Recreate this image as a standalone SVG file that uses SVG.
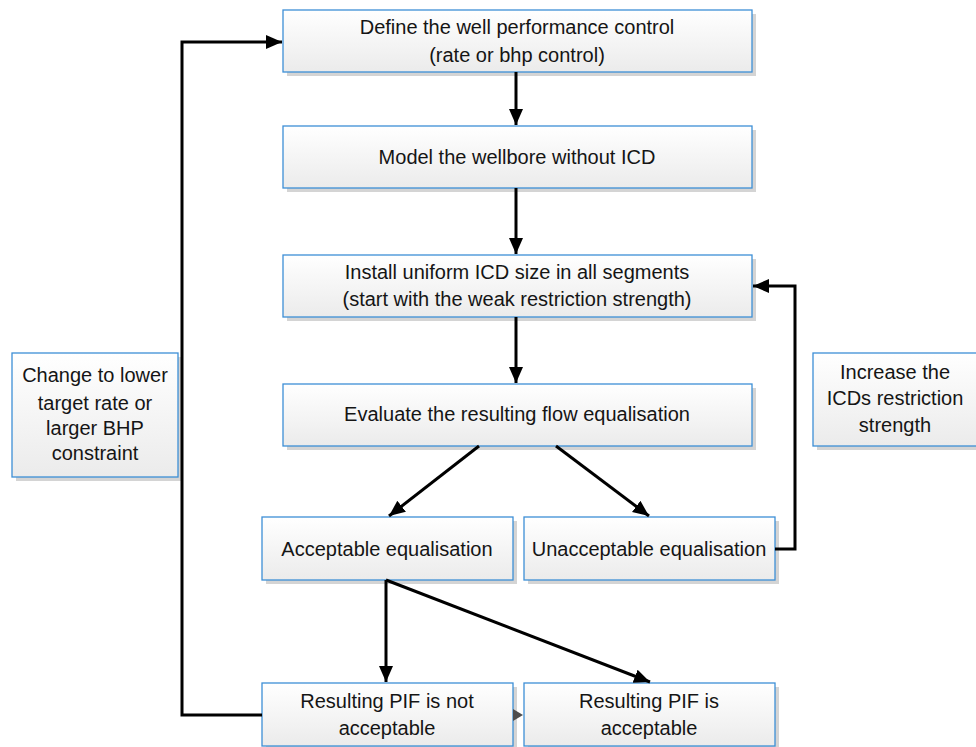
<svg xmlns="http://www.w3.org/2000/svg" width="976" height="747" viewBox="0 0 976 747">
  <defs>
    <linearGradient id="boxFill" x1="0" y1="0" x2="0" y2="1">
      <stop offset="0" stop-color="#ffffff"/>
      <stop offset="1" stop-color="#ebebeb"/>
    </linearGradient>
    <marker id="head" markerUnits="userSpaceOnUse" markerWidth="17" markerHeight="15" refX="16" refY="7" orient="auto">
      <path d="M0,0 L16,7 L0,14 z" fill="#000"/>
    </marker>
  </defs>
  <style>
    .shadow { fill: #d4d4d4; }
    .box { fill: url(#boxFill); stroke: #3d8fd6; stroke-width: 1.3; }
    .label { font-family: "Liberation Sans", Arial, sans-serif; font-size: 20px; fill: #151515; text-anchor: middle; }
    .link { fill: none; stroke: #000; stroke-width: 3; marker-end: url(#head); }
  </style>
  <rect width="976" height="747" fill="#ffffff"/>

  <g id="define-control">
    <rect class="shadow" x="287" y="14" width="469" height="62"/>
    <rect class="box" x="283" y="10" width="469" height="62"/>
    <text class="label" x="517" y="34">Define the well performance control</text>
    <text class="label" x="517" y="62">(rate or bhp control)</text>
  </g>

  <g id="model-wellbore">
    <rect class="shadow" x="287" y="130" width="469" height="62"/>
    <rect class="box" x="283" y="126" width="469" height="62"/>
    <text class="label" x="517" y="164">Model the wellbore without ICD</text>
  </g>

  <g id="install-icd">
    <rect class="shadow" x="287" y="259" width="469" height="62"/>
    <rect class="box" x="283" y="255" width="469" height="62"/>
    <text class="label" x="517" y="279">Install uniform ICD size in all segments</text>
    <text class="label" x="517" y="306">(start with the weak restriction strength)</text>
  </g>

  <g id="evaluate-flow">
    <rect class="shadow" x="287" y="388" width="469" height="62"/>
    <rect class="box" x="283" y="384" width="469" height="62"/>
    <text class="label" x="517" y="421">Evaluate the resulting flow equalisation</text>
  </g>

  <g id="acceptable-eq">
    <rect class="shadow" x="266" y="521" width="251" height="63"/>
    <rect class="box" x="262" y="517" width="251" height="63"/>
    <text class="label" x="387" y="556">Acceptable equalisation</text>
  </g>

  <g id="unacceptable-eq">
    <rect class="shadow" x="528" y="521" width="251" height="63"/>
    <rect class="box" x="524" y="517" width="251" height="63"/>
    <text class="label" x="649" y="556">Unacceptable equalisation</text>
  </g>

  <g id="pif-not-acceptable">
    <rect class="shadow" x="266" y="687" width="251" height="63"/>
    <rect class="box" x="262" y="683" width="251" height="63"/>
    <text class="label" x="387" y="708">Resulting PIF is not</text>
    <text class="label" x="387" y="735">acceptable</text>
  </g>

  <g id="pif-acceptable">
    <rect class="shadow" x="528" y="687" width="251" height="63"/>
    <rect class="box" x="524" y="683" width="251" height="63"/>
    <text class="label" x="649" y="708">Resulting PIF is</text>
    <text class="label" x="649" y="735">acceptable</text>
  </g>

  <g id="change-target">
    <rect class="shadow" x="16" y="357" width="166" height="124"/>
    <rect class="box" x="12" y="353" width="166" height="124"/>
    <text class="label" x="95" y="382">Change to lower</text>
    <text class="label" x="95" y="410">target rate or</text>
    <text class="label" x="95" y="435">larger BHP</text>
    <text class="label" x="95" y="460">constraint</text>
  </g>

  <g id="increase-restriction">
    <rect class="shadow" x="817" y="357" width="170" height="93"/>
    <rect class="box" x="813" y="353" width="170" height="93"/>
    <text class="label" x="895" y="379">Increase the</text>
    <text class="label" x="895" y="405">ICDs restriction</text>
    <text class="label" x="895" y="432">strength</text>
  </g>

  <g id="connectors">
    <line class="link" x1="516" y1="72" x2="516" y2="125"/>
    <line class="link" x1="516" y1="188" x2="516" y2="254"/>
    <line class="link" x1="516" y1="317" x2="516" y2="383"/>
    <line class="link" x1="479" y1="446" x2="389" y2="516"/>
    <line class="link" x1="556" y1="446" x2="649" y2="516"/>
    <polyline class="link" points="775,549 795,549 795,286 753,286"/>
    <line class="link" x1="386" y1="580" x2="386" y2="682"/>
    <line class="link" x1="386" y1="580" x2="650" y2="682"/>
    <polyline class="link" points="262,715 182,715 182,42 282,42"/>
    <path d="M513,709 L523,715 L513,721 z" fill="#4d4d4d"/>
  </g>
</svg>
